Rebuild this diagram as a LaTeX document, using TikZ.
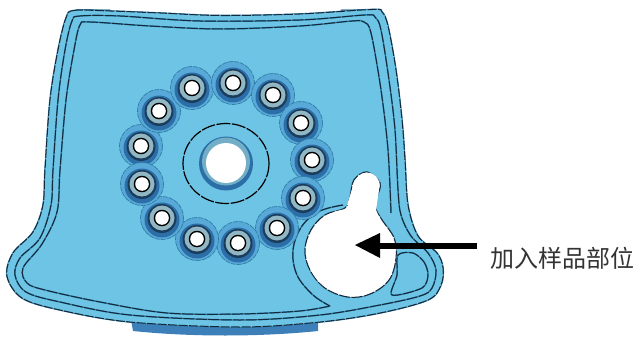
\documentclass[tikz,border=0pt]{standalone}
\usepackage{fontspec}
\newfontfamily\cjk{Noto Sans CJK SC}
\definecolor{bodyblue}{HTML}{6DC4E4}
\definecolor{ringblue}{HTML}{58A9D8}
\definecolor{darkring}{HTML}{2C6FA8}
\definecolor{tabblue}{HTML}{3D7FB8}
\definecolor{tabgrey}{HTML}{4F7F9C}
\definecolor{stroke}{HTML}{14283A}
\definecolor{softstroke}{HTML}{2E7DA6}
\definecolor{labelgrey}{HTML}{333333}
\tikzset{
  x=1pt,y=-1pt,
  contour/.style={draw=stroke,line width=1pt,dash pattern=on 11pt off 1.5pt,
    preaction={draw=softstroke,line width=1.4pt,solid}},
  bodyfill/.style={fill=bodyblue,draw=stroke,line width=1pt,dash pattern=on 9pt off 1.5pt,
    preaction={draw=softstroke,line width=1.6pt,solid}},
  labeltext/.style={font=\cjk\fontsize{24}{27}\selectfont,text=labelgrey,inner sep=0pt,anchor=west},
  pointer/.style={line width=6pt,draw=black},
  pointerhead/.style={fill=black,draw=none},
  pics/lug/.style={code={
    \fill[ringblue] (0,0) circle (21.5);
    \draw[softstroke,line width=.7pt,dash pattern=on 5pt off 1pt] (0,0) circle (21.5);
    \fill[darkring] (0,2) circle (17.5);
    \fill[stroke!70!darkring] (0,0.5) circle (14.5);
    \fill[bodyblue!55!gray!80!white] (0,0) circle (12.5);
    \fill[stroke] (0,0) circle (8.3);
    \fill[white] (0,0) circle (6.8);
  }}
}
\begin{document}
\begin{tikzpicture}
\useasboundingbox (0,0) rectangle (636,339);
% tabs
\fill[tabblue] (131,320) -- (133,331) .. controls (190,337) and (260,337) .. (318,331) -- (318,320) -- cycle;
\fill[tabgrey] (73,13) -- (77,9) -- (110,9.5) -- (111,14) -- cycle;
\fill[tabgrey] (340,13) -- (341,9.5) -- (372,9) -- (378,13) -- cycle;
% body
\path[bodyfill] plot[smooth cycle,tension=.55] coordinates {
 (66,18) (74,10.5) (110,11) (160,13) (220,15.5) (300,14) (372,9.5) (382,12) (388,26)
 (396,70) (402,120) (405,160) (408,205) (418,236) (437,253) (443,268) (441,285) (428,300)
 (380,313) (320,322) (240,327) (130,322) (60,310) (22,298) (7,276) (13,253) (33,232)
 (43,205) (45,170) (50,100) (58,50)};
% middle contour
\draw[contour] plot[smooth cycle,tension=.55] coordinates {
 (72,21) (80,16) (120,16) (200,21) (300,20) (365,15) (375,17) (381,30)
 (389,80) (395,130) (398,190) (401,215) (411,236) (428,253) (436,270) (432,288) (420,296)
 (380,305) (320,315) (240,320) (130,315) (60,302) (26,292) (15,275) (20,258) (40,238)
 (51,205) (53,170) (58,100) (65,50)};
% inner contour
\draw[contour] plot[smooth,tension=.55] coordinates {
 (330,306) (300,311) (240,314) (167,313) (100,302) (45,290) (27,283) (23,268) (42,244)
 (57,212) (60,170) (66,100) (74,50) (80,25) (90,22) (150,26) (220,29) (300,26) (352,21) (364,22) (371,33)
 (381,90) (388,150) (391,213)};
% white keyhole
\draw[contour,fill=white] plot[smooth cycle,tension=.6] coordinates {
 (345,208) (350,197) (354,180) (367,172) (380,183) (377,197) (375,207) (382,220) (394,238) (396,258)
 (389,280) (370,294) (348,297) (325,288) (310,270) (305,250) (311,230) (325,215)};
\fill[white] (367,185) circle (12.5);
\fill[white] (350,252) circle (43);
\fill[white] (347,205) -- (355,180) -- (379,190) -- (376,210) -- (385,230) -- cycle;
% ring around the keyhole
\draw[contour] plot[smooth,tension=.6] coordinates {
 (343,205) (320,211) (302,226) (293,250) (297,275) (313,295) (330,306)};
% right lobe
\draw[contour] plot[smooth cycle,tension=.5] coordinates {
 (413,253) (424,262) (428,275) (422,288) (392,295) (397,275) (398,255)};
% lugs
\foreach \n/\px/\py in {a/141/146,b/159/111,c/192/88,d/233/83,e/273/95,f/301/123,g/312/160,h/303/198,i/277/228,j/238/243,k/197/239,l/162/218,m/142/184}
  \pic at (\px,\py) {lug};
% central boss
\draw[stroke,line width=1.2pt,dash pattern=on 14pt off 1.5pt] (226,163.5) ellipse (43 and 40);
\fill[darkring] (226,163.5) circle (27);
\fill[bodyblue!70!gray] (226,161.5) circle (24);
\fill[white] (226,163) circle (20);
% arrow
\coordinate (tail) at (477,246);
\coordinate (neck) at (378,246);
\coordinate (tip) at (355,245);
\draw[pointer] (tail) -- (neck);
\fill[pointerhead] (tip) -- (380,233) -- (380,258) -- cycle;
\node[labeltext] (sitelabel) at (490,258) {加入样品部位};
\end{tikzpicture}
\end{document}
